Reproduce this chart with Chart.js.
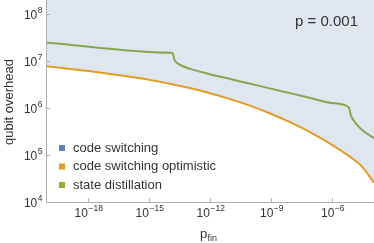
<!DOCTYPE html>
<html lang="en">
<head>
<meta charset="UTF-8">
<title>qubit overhead</title>
<script src="https://cdn.jsdelivr.net/npm/chart.js@4.4.0/dist/chart.umd.min.js"></script>
<style>
  html, body { margin: 0; padding: 0; background: #fff; }
  #wrap { width: 374px; height: 243px; }
</style>
</head>
<body>
<div id="wrap"><canvas id="myChart"></canvas></div>
<script>
// values
const optX = [8e-21, 1e-19, 1e-18, 1e-17, 1e-16, 1e-15, 1e-14, 1e-13, 1e-12, 1e-11, 1e-10, 1e-9, 1e-8, 1e-7, 1e-6, 1e-5, 3.16e-5, 1.23e-4];
const optY = [7.8e6, 6.89e6, 6.12e6, 5.39e6, 4.67e6, 3.98e6, 3.3e6, 2.66e6, 2.07e6, 1.55e6, 1.11e6, 7.56e5, 4.88e5, 2.96e5, 1.67e5, 8.6e4, 5.66e4, 2.58e4];
const distX = [8e-21, 1e-14, 1.4e-14, 1.8e-14, 3.2e-14, 1e-13, 1e-12, 1e-11, 1e-10, 1e-9, 1e-8, 1e-7, 1e-6, 7e-6, 8.9e-6, 1.26e-5, 3.2e-5, 1.23e-4];
const distY = [2.5e7, 1.5e7, 1.48e7, 1.05e7, 8.38e6, 6.89e6, 5.26e6, 4.15e6, 3.28e6, 2.59e6, 2.05e6, 1.62e6, 1.28e6, 1.04e6, 7.0e5, 5.3e5, 3.4e5, 2.3e5];
const xTickExp = [-18, -15, -12, -9, -6];
const yTickExp = [4, 5, 6, 7, 8];
const labels = ['code switching', 'code switching optimistic', 'state distillation'];
const colors = ['#5e81b5', '#e19c24', '#8fb032'];

const FONT = "'Liberation Sans', Arial, sans-serif";
const TXT = '#333';

function pts(xs, ys) { return xs.map((v, i) => ({ x: v, y: ys[i] })); }

// draw "10" with a superscript exponent
function pow10(ctx, exp, x, y, align) {
  const e = String(exp).replace('-', '\u2212');
  ctx.font = '12px ' + FONT;
  const w1 = ctx.measureText('10').width;
  ctx.font = '8.5px ' + FONT;
  const w2 = ctx.measureText(e).width;
  let left = x;
  if (align === 'right') left = x - w1 - w2;
  if (align === 'center') left = x - (w1 + w2) / 2;
  ctx.textAlign = 'left';
  ctx.textBaseline = 'middle';
  ctx.font = '12px ' + FONT;
  ctx.fillText('10', left, y);
  ctx.font = '8.5px ' + FONT;
  ctx.fillText(e, left + w1 + 0.5, y - 5);
}

const deco = {
  id: 'deco',
  afterDraw(chart) {
    const { ctx, chartArea: a, scales: { x, y } } = chart;
    ctx.save();
    ctx.strokeStyle = '#b0b0b0';
    ctx.lineWidth = 1;
    ctx.beginPath();
    ctx.moveTo(a.left + 0.5, a.top);
    ctx.lineTo(a.left + 0.5, a.bottom + 0.5);
    ctx.lineTo(a.right, a.bottom + 0.5);
    ctx.stroke();

    ctx.fillStyle = TXT;
    yTickExp.forEach(e => {
      const py = Math.round(y.getPixelForValue(Math.pow(10, e))) + 0.5;
      ctx.beginPath(); ctx.moveTo(a.left, py); ctx.lineTo(a.left + 4, py); ctx.stroke();
      pow10(ctx, e, a.left - 4, py + 1, 'right');
    });
    xTickExp.forEach(e => {
      const px = Math.round(x.getPixelForValue(Math.pow(10, e))) + 0.5;
      ctx.beginPath(); ctx.moveTo(px, a.bottom); ctx.lineTo(px, a.bottom - 4); ctx.stroke();
      pow10(ctx, e, px, a.bottom + 12, 'center');
    });

    // axis titles
    ctx.textBaseline = 'alphabetic';
    ctx.textAlign = 'left';
    ctx.font = '13px ' + FONT;
    ctx.fillText('p', 200, 238);
    ctx.font = '9px ' + FONT;
    ctx.fillText('fin', 207.5, 241);
    ctx.save();
    ctx.translate(13, 102);
    ctx.rotate(-Math.PI / 2);
    ctx.textAlign = 'center';
    ctx.font = '13px ' + FONT;
    ctx.fillText('qubit overhead', 0, 0);
    ctx.restore();

    // annotation
    ctx.font = '15px ' + FONT;
    ctx.textAlign = 'left';
    ctx.textBaseline = 'middle';
    ctx.fillText('p = 0.001', 295, 22);

    // legend
    ctx.font = '13px ' + FONT;
    labels.forEach((t, i) => {
      const ly = 148 + i * 18.5;
      ctx.fillStyle = colors[i];
      ctx.fillRect(59, ly - 3, 6, 6);
      ctx.fillStyle = TXT;
      ctx.fillText(t, 73, ly);
    });
    ctx.restore();
  }
};

const ctx = document.getElementById('myChart').getContext('2d');
const myChart = new Chart(ctx, {
  type: 'line',
  data: {
    datasets: [{
      label: labels[0],
      data: [],
      borderColor: colors[0],
      backgroundColor: colors[0]
    }, {
      label: labels[1],
      data: pts(optX, optY),
      borderColor: colors[1],
      backgroundColor: 'rgba(94, 129, 181, 0.2)',
      borderWidth: 2,
      fill: 'end',
      cubicInterpolationMode: 'monotone'
    }, {
      label: labels[2],
      data: pts(distX, distY),
      borderColor: colors[2],
      borderWidth: 2,
      fill: false,
      cubicInterpolationMode: 'monotone'
    }]
  },
  options: {
    responsive: true,
    maintainAspectRatio: false,
    animation: false,
    elements: { point: { radius: 0 } },
    layout: { padding: 0 },
    plugins: { legend: { display: false }, tooltip: { enabled: false } },
    scales: {
      x: {
        type: 'logarithmic',
        min: Math.pow(10, -20.09),
        max: Math.pow(10, -3.91),
        grid: { display: false },
        border: { display: false },
        ticks: { display: false },
        afterFit: s => { s.height = 41; }
      },
      y: {
        type: 'logarithmic',
        min: 1e4,
        max: Math.pow(10, 8.3),
        grid: { display: false },
        border: { display: false },
        ticks: { display: false },
        afterFit: s => { s.width = 46; }
      }
    }
  },
  plugins: [deco]
});
</script>
</body>
</html>
